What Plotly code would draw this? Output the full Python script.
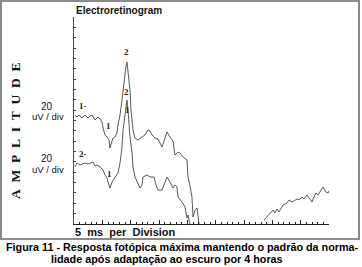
import plotly.graph_objects as go

W, H = 362, 267

# ---- data (time in ms, amplitude in uV) ----
t_resp1 = [0.18, 0.53, 0.88, 1.41, 1.94, 2.47, 2.82, 3.18, 3.71, 4.24, 4.59, 4.94, 5.12, 5.47,
           5.82, 6.18, 6.35, 6.71, 6.88, 7.24, 7.59, 7.76, 8.12, 8.47, 8.82, 9.18, 9.35, 9.53,
           9.88, 10.06, 10.41, 10.76, 11.29, 12.0, 12.53, 13.06, 13.41, 13.76, 14.29, 14.82,
           15.53, 16.06, 16.41, 16.94, 17.47, 17.82, 18.35, 18.71, 19.24, 19.94, 20.12, 20.47,
           20.82, 21.0, 21.35, 21.71, 21.88, 22.06]
v_resp1 = [218, 214, 218, 212, 218, 212, 216, 218, 208, 214, 210, 204, 192, 178,
           174, 168, 152, 164, 172, 174, 182, 198, 218, 248, 288, 316, 324, 308,
           268, 228, 188, 172, 168, 174, 178, 188, 186, 178, 172, 170,
           154, 172, 184, 174, 166, 138, 144, 142, 134, 128, 94, 76,
           54, 14, 28, 32, 10, 0]

t_resp2 = [0.18, 0.53, 1.06, 1.59, 1.94, 2.47, 2.82, 3.35, 3.71, 4.06, 4.59, 5.12, 5.47, 5.82,
           6.0, 6.35, 6.71, 7.24, 7.76, 8.12, 8.47, 8.65, 9.0, 9.18, 9.35, 9.53, 9.71, 9.88,
           10.24, 10.41, 10.76, 11.12, 11.65, 12.0, 12.18, 12.53, 12.88, 13.41, 14.12, 14.47,
           14.82, 15.53, 15.71, 16.41, 16.94, 17.47, 17.82, 18.18, 18.35, 19.06, 19.59, 19.94,
           20.12, 20.47]
v_resp2 = [114, 122, 118, 120, 122, 120, 122, 124, 116, 118, 114, 108, 98, 92,
           84, 72, 84, 94, 102, 122, 154, 188, 224, 242, 248, 228, 202, 174,
           142, 114, 94, 84, 72, 78, 94, 96, 98, 94, 94, 78,
           68, 68, 74, 94, 84, 72, 78, 74, 54, 44, 34, 12,
           18, 0]

t_resp3 = [33.53, 33.88, 34.24, 34.59, 34.94, 35.12, 35.47, 35.82, 36.18, 36.71, 36.88, 37.24,
           37.59, 37.94, 38.47, 38.82, 39.35, 39.71, 40.24, 40.59, 41.12, 41.47, 42.0, 42.35,
           42.71, 43.06, 43.59, 43.94, 44.47, 44.82, 45.0]
v_resp3 = [8, 12, 16, 22, 26, 28, 22, 30, 24, 34, 38, 40,
           42, 48, 44, 46, 50, 48, 54, 50, 58, 52, 44, 54,
           62, 58, 68, 74, 64, 62, 66]

title_text = "Electroretinogram"
x_label = "5\u00a0\u00a0ms\u00a0\u00a0per\u00a0\u00a0Division"
y_label = "\u00a0\u00a0".join("AMPLITUDE")
scale_label = ["20", "uV / div"]
caption = ["Figura 11 - Resposta fotópica máxima mantendo o padrão da norma-",
           "lidade após adaptação ao escuro por 4 horas"]


def px(x):
    return x / W


def py(y):
    return 1 - y / H


fig = go.Figure()
for t, v in [(t_resp1, v_resp1), (t_resp2, v_resp2), (t_resp3, v_resp3)]:
    fig.add_trace(go.Scatter(x=t, y=v, mode="lines",
                             line=dict(color="#444444", width=0.9),
                             showlegend=False, hoverinfo="skip"))

sans = "Liberation Sans, Arial, sans-serif"
serif = "Liberation Serif, Times New Roman, serif"

ann = []
ann.append(dict(text="<b>%s</b>" % title_text, x=px(74), y=py(11), xanchor="left",
                yanchor="middle", font=dict(family=sans, size=10, color="#111")))
ann.append(dict(text="<b>%s</b>" % x_label, x=px(73), y=py(232), xanchor="left",
                yanchor="middle", font=dict(family=sans, size=11, color="#111")))
ann.append(dict(text="<b>%s</b>" % y_label, x=px(15), y=py(131), xanchor="center",
                yanchor="middle", textangle=-90, font=dict(family=serif, size=13.5, color="#111")))
for yy in (106, 158):
    ann.append(dict(text=scale_label[0], x=px(47), y=py(yy), xanchor="center", yanchor="middle",
                    font=dict(family=sans, size=10, color="#111")))
    ann.append(dict(text=scale_label[1], x=px(48), y=py(yy + 11), xanchor="center", yanchor="middle",
                    font=dict(family=sans, size=9.5, color="#111")))
ann.append(dict(text="<b>%s</b>" % caption[0], x=px(4), y=py(247), xanchor="left",
                yanchor="middle", font=dict(family=sans, size=10.8, color="#000")))
ann.append(dict(text="<b>%s</b>" % caption[1], x=px(49), y=py(259), xanchor="left",
                yanchor="middle", font=dict(family=sans, size=10.8, color="#000")))
# trace markers
for txt, xx, yy in [("1-", 83, 106), ("2-", 83, 154), ("1", 108, 126), ("1", 109, 174),
                    ("2", 126, 52), ("2", 126, 92), ("1", 127, 110)]:
    ann.append(dict(text="<b>%s</b>" % txt, x=px(xx), y=py(yy), xanchor="center",
                    yanchor="middle", font=dict(family=serif, size=9, color="#222")))
for a in ann:
    a.update(xref="paper", yref="paper", showarrow=False)

fig.update_layout(
    width=W, height=H, margin=dict(l=0, r=0, t=0, b=0),
    paper_bgcolor="white", plot_bgcolor="white",
    annotations=ann,
    shapes=[dict(type="rect", xref="paper", yref="paper",
                 x0=px(1), x1=px(359), y0=py(239), y1=py(1),
                 line=dict(color="#8a8a8a", width=2))],
    xaxis=dict(domain=[px(74), px(329)], range=[0, 45], showgrid=False, zeroline=False,
               showline=True, linecolor="#222", linewidth=1, ticks="inside", ticklen=4,
               tickcolor="#222", tick0=0, dtick=5, showticklabels=False,
               minor=dict(ticks="inside", ticklen=2, dtick=1, tickcolor="#222", showgrid=False)),
    yaxis=dict(domain=[py(224), py(17)], range=[0, 414], showgrid=False, zeroline=False,
               showline=True, linecolor="#444", linewidth=1, ticks="inside", ticklen=2,
               tickcolor="#444", tick0=0, dtick=20.7, showticklabels=False),
)

fig.write_html("out.html")
